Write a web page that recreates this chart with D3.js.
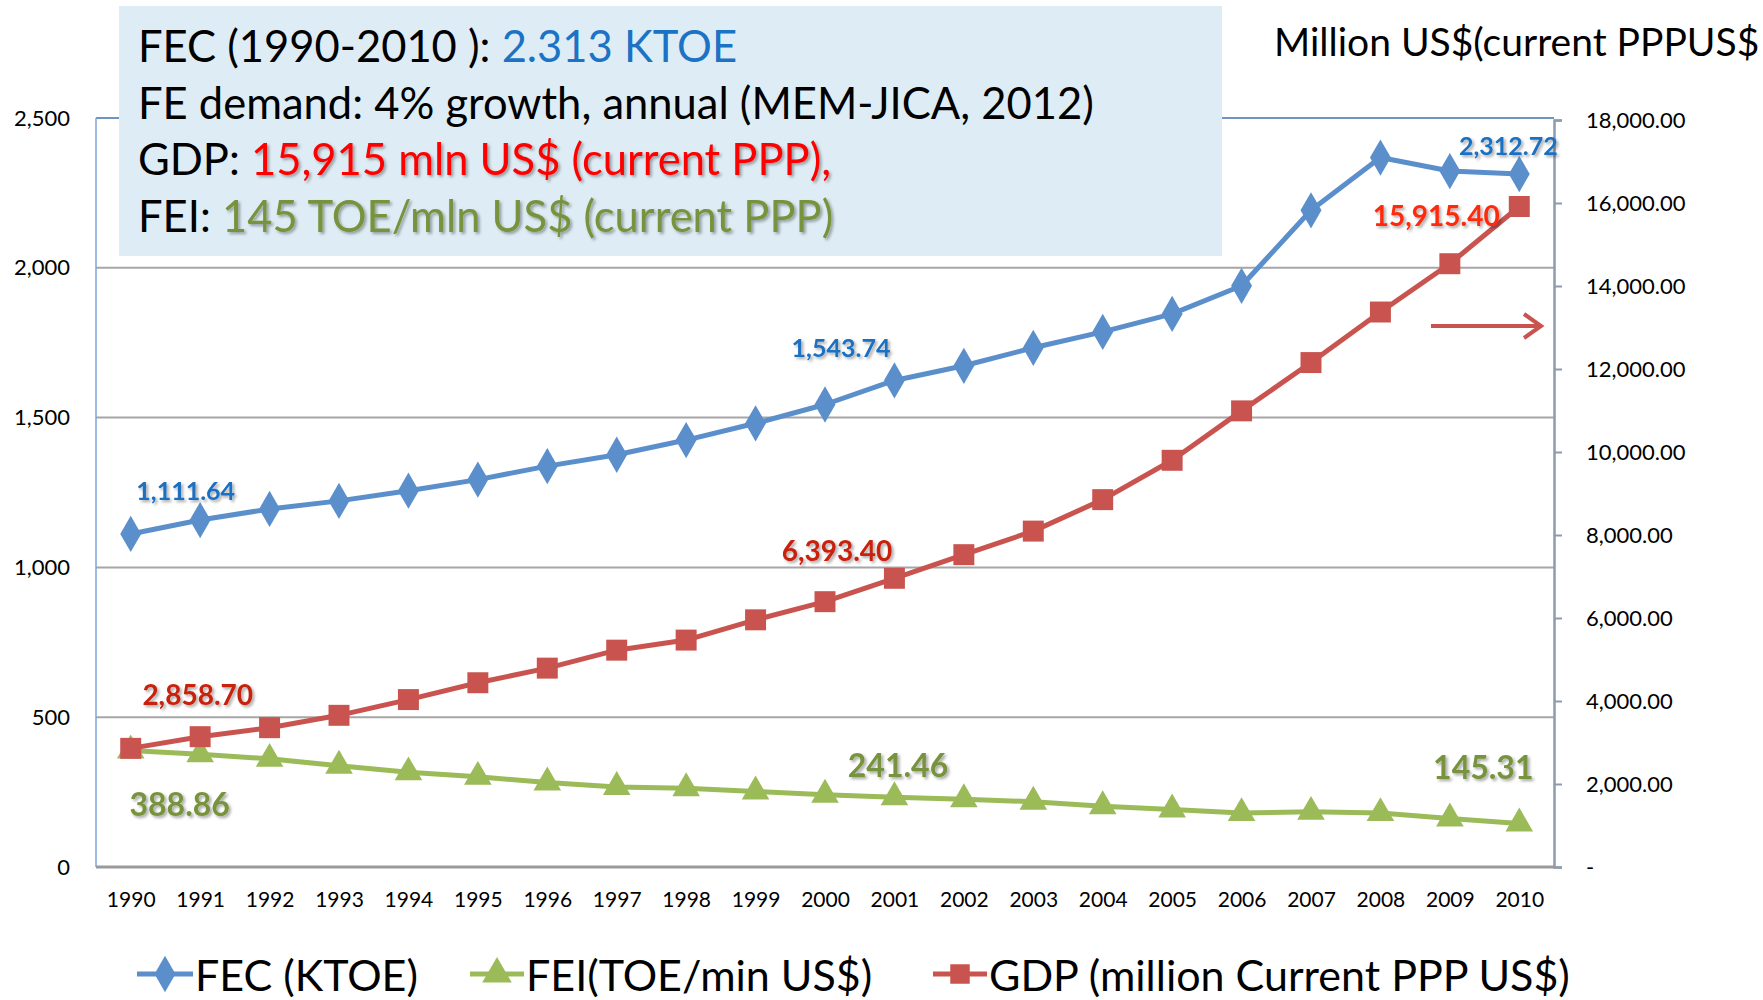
<!DOCTYPE html>
<html>
<head>
<meta charset="utf-8">
<script src="https://cdn.jsdelivr.net/npm/d3@7"></script>
<style>
  body { margin: 0; background: #fff; }
  svg { display: block; font-family: Lato, "Open Sans", sans-serif; }
</style>
</head>
<body>
<div id="chart"></div>
<script>
// data
var years = ["1990","1991","1992","1993","1994","1995","1996","1997","1998","1999","2000",
             "2001","2002","2003","2004","2005","2006","2007","2008","2009","2010"];
var fec = [1111.64, 1158, 1195, 1222, 1256, 1293, 1338, 1376, 1425, 1481, 1543.74,
           1624, 1673, 1733, 1786, 1846, 1940, 2192, 2368, 2323, 2312.72];
var gdp = [2858.70, 3140, 3357, 3655, 4034, 4440, 4792, 5225, 5468, 5956, 6393.40,
           6957, 7526, 8094, 8852, 9800, 10991, 12155, 13373, 14537, 15915.40];
var fei = [388.86, 376, 361, 338, 316, 301, 282, 267, 263, 252, 241.46,
           233, 226, 218, 203, 192, 180, 184, 180, 162, 145.31];
var leftTicks = [0, 500, 1000, 1500, 2000, 2500];
var rightTicks = [0, 2000, 4000, 6000, 8000, 10000, 12000, 14000, 16000, 18000];
var legendNames = ["FEC (KTOE)", "FEI(TOE/min US$)", "GDP (million Current PPP US$)"];

var W = 1763, H = 1000;
var pLeft = 96, pRight = 1554, pTop = 118, pBottom = 867;

var svg = d3.select("#chart").append("svg")
    .attr("width", W).attr("height", H);

var defs = svg.append("defs");
var f = defs.append("filter").attr("id", "shadow")
    .attr("x", "-20%").attr("y", "-40%").attr("width", "140%").attr("height", "180%");
f.append("feDropShadow").attr("dx", 2).attr("dy", 2).attr("stdDeviation", 1.5)
    .attr("flood-color", "#000").attr("flood-opacity", 0.35);

var x = d3.scalePoint().domain(years).range([pLeft, pRight]).padding(0.5);
var yL = d3.scaleLinear().domain([0, 2500]).range([pBottom, pTop]);
var yR = d3.scaleLinear().domain([0, 18000]).range([pBottom, pTop + 2]);

// gridlines
svg.append("g").selectAll("line")
    .data(leftTicks.filter(function(d) { return d > 0 && d < 2500; }))
    .enter().append("line")
    .attr("x1", pLeft).attr("x2", pRight)
    .attr("y1", function(d) { return yL(d); })
    .attr("y2", function(d) { return yL(d); })
    .attr("stroke", "#a6a6a6").attr("stroke-width", 2);

// top border + left axis line
svg.append("line").attr("x1", pLeft).attr("x2", pRight).attr("y1", yL(2500)).attr("y2", yL(2500))
    .attr("stroke", "#6f94c4").attr("stroke-width", 2);
svg.append("line").attr("x1", pLeft).attr("x2", pLeft).attr("y1", yL(2500)).attr("y2", pBottom)
    .attr("stroke", "#7ea6d8").attr("stroke-width", 1.5);

// left axis labels
var gl = svg.append("g").attr("transform", "translate(" + pLeft + ",0)")
    .call(d3.axisLeft(yL).tickValues(leftTicks).tickFormat(d3.format(",")).tickSize(0).tickPadding(26));
gl.select(".domain").remove();
gl.selectAll("text").attr("font-size", 22).attr("fill", "#000").attr("font-family", "Lato, sans-serif");

// right axis
var gr = svg.append("g").attr("transform", "translate(" + pRight + ",0)")
    .call(d3.axisRight(yR).tickValues(rightTicks)
      .tickFormat(function(d) { return d === 0 ? "-" : d3.format(",.2f")(d); })
      .tickSize(8).tickPadding(24));
gr.select(".domain").attr("stroke", "#8e9bac").attr("stroke-width", 2.5);
gr.selectAll(".tick line").attr("stroke", "#8e9bac").attr("stroke-width", 2);
gr.selectAll("text").attr("font-size", 22).attr("fill", "#000").attr("font-family", "Lato, sans-serif");

// bottom axis
svg.append("line").attr("x1", pLeft).attr("x2", pRight + 1).attr("y1", pBottom).attr("y2", pBottom)
    .attr("stroke", "#9a9a9a").attr("stroke-width", 3);
var gb = svg.append("g").attr("transform", "translate(0," + pBottom + ")")
    .call(d3.axisBottom(x).tickSize(0).tickPadding(25));
gb.select(".domain").remove();
gb.selectAll("text").attr("font-size", 21).attr("fill", "#000").attr("font-family", "Lato, sans-serif");

// series
var series = [
  { name: "fei", vals: fei, y: yL, color: "#9bbb59", shape: d3.symbolTriangle, size: 330 },
  { name: "gdp", vals: gdp, y: yR, color: "#c9544f", shape: d3.symbolSquare, size: 440 },
  { name: "fec", vals: fec, y: yL, color: "#5b8fcb", shape: d3.symbolDiamond, size: 380 }
];

series.forEach(function(s) {
  var line = d3.line()
      .x(function(d, i) { return x(years[i]); })
      .y(function(d) { return s.y(d); });
  svg.append("path").datum(s.vals)
      .attr("d", line).attr("fill", "none")
      .attr("stroke", s.color).attr("stroke-width", 5).attr("stroke-linejoin", "round");
  svg.append("g").selectAll("path").data(s.vals).enter().append("path")
      .attr("d", d3.symbol().type(s.shape).size(s.size))
      .attr("transform", function(d, i) {
        return "translate(" + x(years[i]) + "," + s.y(d) + ")";
      })
      .attr("fill", s.color);
});

// data labels
var labels = [
  { vals: fec, y: yL, i: 0,  dx: 55,  dy: -44, color: "#1a70c2", size: 25 },
  { vals: fec, y: yL, i: 10, dx: 16,  dy: -57, color: "#1a70c2", size: 25 },
  { vals: fec, y: yL, i: 20, dx: -11, dy: -29, color: "#1a70c2", size: 25 },
  { vals: gdp, y: yR, i: 0,  dx: 67,  dy: -54, color: "#c8200c", size: 28 },
  { vals: gdp, y: yR, i: 10, dx: 12,  dy: -52, color: "#c8200c", size: 28 },
  { vals: gdp, y: yR, i: 20, dx: -83, dy: 8,   color: "#ff2a0a", size: 28 },
  { vals: fei, y: yL, i: 0,  dx: 49,  dy: 53,  color: "#77933c", size: 32 },
  { vals: fei, y: yL, i: 10, dx: 73,  dy: -30, color: "#77933c", size: 32 },
  { vals: fei, y: yL, i: 20, dx: -36, dy: -57, color: "#77933c", size: 32 }
];
svg.append("g").selectAll("text").data(labels).enter().append("text")
    .attr("x", function(d) { return x(years[d.i]) + d.dx; })
    .attr("y", function(d) { return d.y(d.vals[d.i]) + d.dy; })
    .attr("text-anchor", "middle").attr("dominant-baseline", "central")
    .attr("font-weight", "bold")
    .attr("font-size", function(d) { return d.size; })
    .attr("fill", function(d) { return d.color; })
    .attr("filter", "url(#shadow)")
    .text(function(d) { return d3.format(",.2f")(d.vals[d.i]); });

// arrow pointing to right axis
var ag = svg.append("g").attr("stroke", "#c9544f").attr("stroke-width", 4).attr("fill", "none");
ag.append("line").attr("x1", 1431).attr("x2", 1540).attr("y1", 326).attr("y2", 326);
ag.append("polyline").attr("points", "1524,314 1541,326 1524,338").attr("stroke-linejoin", "miter");

// note box
svg.append("rect").attr("x", 119).attr("y", 6).attr("width", 1103).attr("height", 250)
    .attr("fill", "#deedf5");
var notes = [
  [["FEC (1990-2010 ): ", "#000", false], ["2.313 KTOE", "#1c72c4", false]],
  [["FE demand: 4% growth, annual (MEM-JICA, 2012)", "#000", false]],
  [["GDP: ", "#000", false], ["15,915 mln US$ (current PPP),", "#ff0000", true]],
  [["FEI: ", "#000", false], ["145 TOE/mln US$ (current PPP)", "#77933c", true]]
];
notes.forEach(function(parts, k) {
  var t = svg.append("text").attr("x", 138).attr("y", 62 + k * 56.5).attr("font-size", 43.5);
  parts.forEach(function(p) {
    t.append("tspan").attr("fill", p[1]).text(p[0])
      .attr("filter", p[2] ? "url(#shadow)" : null);
  });
});

// right axis title
svg.append("text").attr("x", 1274).attr("y", 56).attr("font-size", 39).attr("fill", "#000")
    .text("Million US$(current PPPUS$");

// legend
var legend = [
  { name: legendNames[0], color: "#5b8fcb", shape: d3.symbolDiamond, x0: 137, x1: 193 },
  { name: legendNames[1], color: "#9bbb59", shape: d3.symbolTriangle, x0: 470, x1: 524 },
  { name: legendNames[2], color: "#c9544f", shape: d3.symbolSquare, x0: 933, x1: 987 }
];
var lg = svg.append("g");
legend.forEach(function(l) {
  lg.append("line").attr("x1", l.x0).attr("x2", l.x1).attr("y1", 974).attr("y2", 974)
      .attr("stroke", l.color).attr("stroke-width", 5);
  lg.append("path").attr("d", d3.symbol().type(l.shape).size(380))
      .attr("transform", "translate(" + (l.x0 + l.x1) / 2 + ",974)").attr("fill", l.color);
  lg.append("text").attr("x", l.x1 + 2).attr("y", 991).attr("font-size", 43).attr("fill", "#000")
      .text(l.name);
});
</script>
</body>
</html>
